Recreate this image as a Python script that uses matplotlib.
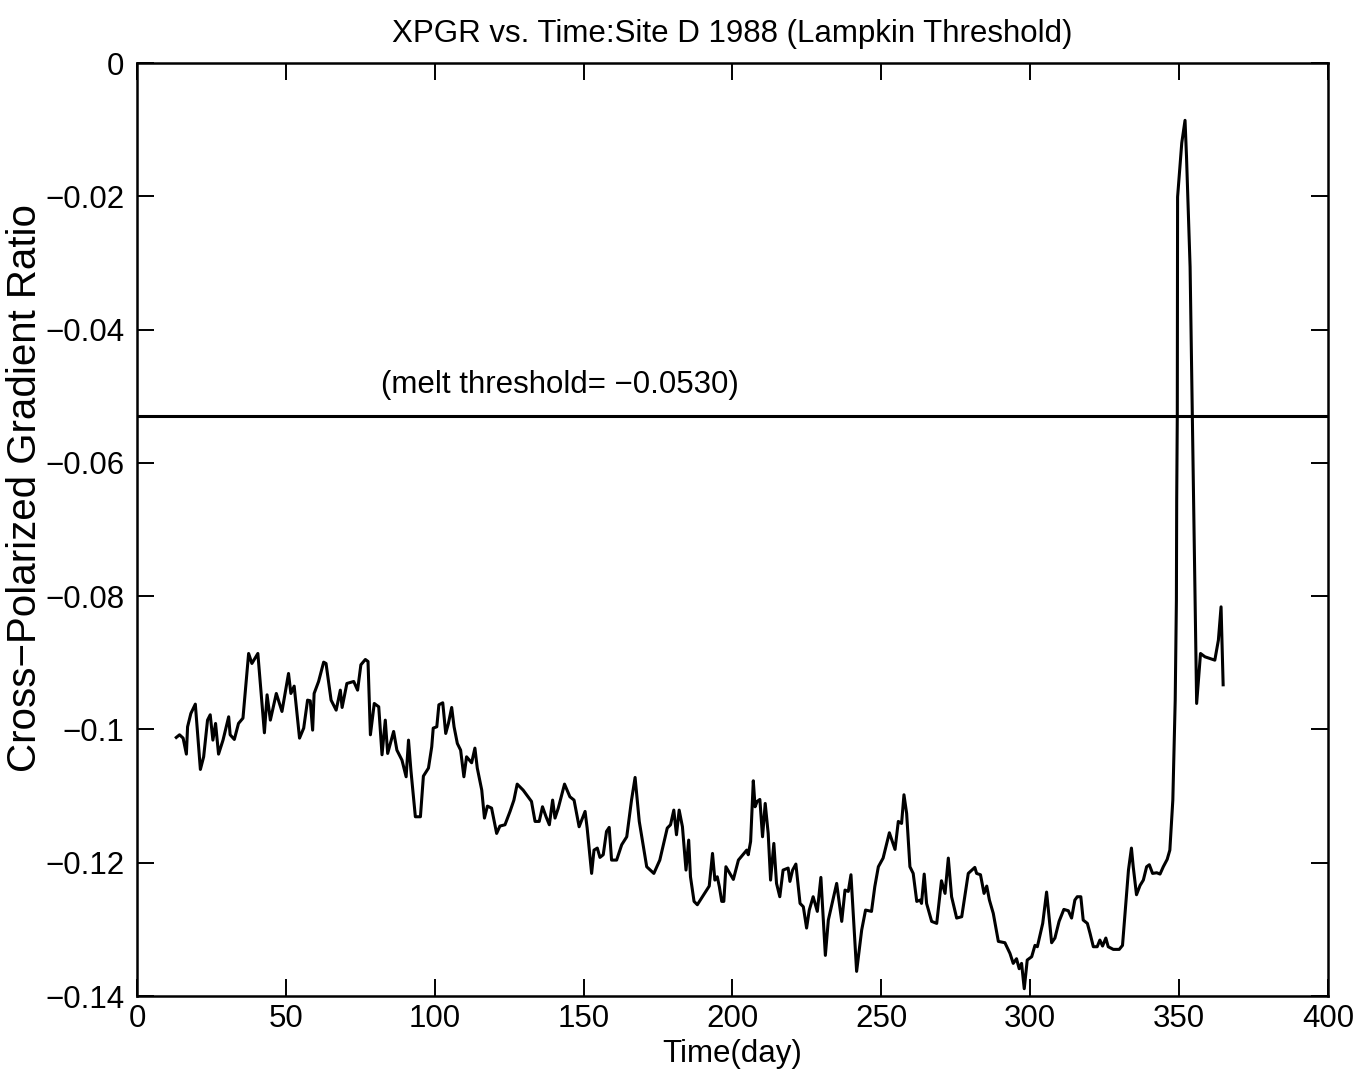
import matplotlib
matplotlib.use("Agg")
import matplotlib.pyplot as plt
from matplotlib.ticker import FuncFormatter

# XPGR series (day of year, cross-polarized gradient ratio)
days = [
    13.2, 14.3, 15.5, 16.6, 17.0, 18.1, 19.6, 21.3, 22.4, 23.7, 24.6, 25.5, 26.4, 27.4, 28.9,
    30.8, 31.3, 32.7, 34.1, 35.6, 37.5, 38.6, 40.6, 42.8, 43.7, 44.8, 46.8, 48.7, 50.9, 51.7,
    52.8, 54.6, 56.0, 57.3, 58.2, 59.0, 59.5, 61.0, 62.7, 63.5, 65.2, 66.9, 68.3, 68.9, 70.5,
    72.8, 74.1, 75.2, 76.7, 77.6, 78.4, 79.7, 81.2, 82.3, 83.4, 84.2, 86.2, 87.3, 89.0, 90.4,
    91.2, 92.0, 93.5, 95.2, 96.2, 97.9, 99.0, 99.5, 100.7, 101.4, 102.7, 103.7, 104.6, 105.7,
    106.5, 107.6, 108.7, 109.8, 110.7, 112.4, 113.5, 114.3, 115.8, 116.7, 117.7, 119.1, 120.8,
    121.9, 123.6, 125.3, 126.6, 127.7, 129.7, 132.5, 133.7, 135.1, 136.2, 137.4, 138.5, 139.6,
    140.4, 141.5, 143.6, 145.4, 146.8, 148.5, 150.5, 151.2, 152.7, 153.5, 154.6, 155.5, 156.6,
    157.7, 158.6, 159.4, 161.1, 162.8, 164.5, 166.1, 167.3, 168.7, 171.2, 173.6, 175.6, 178.1,
    179.2, 180.3, 181.2, 182.1, 183.2, 184.4, 185.3, 185.9, 187.1, 188.2, 190.2, 192.2, 193.3,
    194.1, 194.9, 195.6, 196.4, 197.1, 197.8, 200.3, 202.0, 204.8, 205.3, 206.1, 207.0, 207.6,
    208.3, 209.2, 210.1, 211.0, 212.0, 212.8, 213.9, 214.8, 215.9, 217.0, 218.7, 219.3, 220.2,
    221.3, 222.7, 223.8, 224.9, 225.8, 227.1, 228.5, 229.7, 231.2, 232.2, 235.0, 236.7, 237.8,
    238.9, 239.8, 241.7, 243.4, 244.7, 246.7, 247.8, 249.0, 250.6, 252.7, 254.6, 255.7, 256.8,
    257.6, 258.5, 259.6, 260.7, 261.9, 263.0, 263.5, 264.4, 265.2, 266.9, 268.6, 270.2, 271.4,
    272.5, 273.6, 275.3, 277.0, 279.2, 281.4, 282.0, 283.3, 284.5, 285.4, 286.3, 287.6, 289.3,
    291.5, 293.2, 294.3, 295.4, 296.3, 297.1, 298.0, 299.0, 300.5, 301.6, 302.4, 304.2, 305.5,
    307.2, 308.3, 309.7, 311.3, 312.8, 313.9, 315.0, 315.8, 317.0, 317.8, 319.2, 320.1, 321.2,
    322.5, 323.4, 324.3, 325.4, 326.2, 327.9, 329.9, 331.0, 332.4, 333.0, 334.0, 334.6, 335.7,
    336.9, 338.0, 339.1, 340.0, 341.1, 342.5, 343.6, 344.7, 346.0, 346.9, 347.5, 347.9, 348.7,
    349.1, 349.2, 349.4, 349.5, 350.9, 352.0, 352.5, 353.7, 355.9, 357.2, 358.7, 362.0, 363.2,
    364.1, 364.8,
]
xpgr = [
    -0.1012, -0.1008, -0.1013, -0.1037, -0.0996, -0.0976, -0.0962, -0.1060, -0.1041, -0.0986,
    -0.0978, -0.1016, -0.0991, -0.1037, -0.1016, -0.0981, -0.1008, -0.1015, -0.0991, -0.0983,
    -0.0886, -0.0901, -0.0886, -0.1005, -0.0948, -0.0986, -0.0946, -0.0973, -0.0916, -0.0946,
    -0.0935, -0.1013, -0.0998, -0.0956, -0.0957, -0.1001, -0.0946, -0.0928, -0.0899, -0.0901,
    -0.0956, -0.0971, -0.0941, -0.0967, -0.0931, -0.0928, -0.0941, -0.0903, -0.0895, -0.0898,
    -0.1008, -0.0961, -0.0966, -0.1038, -0.0986, -0.1036, -0.1003, -0.1031, -0.1046, -0.1071,
    -0.1016, -0.1061, -0.1131, -0.1131, -0.1070, -0.1058, -0.1026, -0.0998, -0.0996, -0.0963,
    -0.0960, -0.1006, -0.0991, -0.0967, -0.0996, -0.1021, -0.1031, -0.1071, -0.1041, -0.1050,
    -0.1028, -0.1058, -0.1091, -0.1133, -0.1115, -0.1118, -0.1156, -0.1145, -0.1143, -0.1123,
    -0.1106, -0.1082, -0.1091, -0.1108, -0.1138, -0.1138, -0.1116, -0.1131, -0.1143, -0.1106,
    -0.1133, -0.1118, -0.1082, -0.1101, -0.1106, -0.1146, -0.1123, -0.1148, -0.1216, -0.1181,
    -0.1178, -0.1192, -0.1188, -0.1153, -0.1147, -0.1196, -0.1196, -0.1173, -0.1161, -0.1106,
    -0.1072, -0.1138, -0.1206, -0.1216, -0.1196, -0.1148, -0.1143, -0.1121, -0.1158, -0.1121,
    -0.1146, -0.1211, -0.1166, -0.1221, -0.1258, -0.1263, -0.1249, -0.1235, -0.1186, -0.1226,
    -0.1221, -0.1236, -0.1258, -0.1258, -0.1206, -0.1225, -0.1196, -0.1181, -0.1188, -0.1168,
    -0.1077, -0.1116, -0.1108, -0.1105, -0.1161, -0.1111, -0.1156, -0.1226, -0.1171, -0.1231,
    -0.1251, -0.1211, -0.1208, -0.1228, -0.1211, -0.1202, -0.1261, -0.1266, -0.1298, -0.1271,
    -0.1251, -0.1273, -0.1222, -0.1339, -0.1286, -0.1231, -0.1288, -0.1241, -0.1243, -0.1218,
    -0.1363, -0.1301, -0.1271, -0.1273, -0.1236, -0.1206, -0.1193, -0.1155, -0.1180, -0.1138,
    -0.1141, -0.1098, -0.1126, -0.1206, -0.1216, -0.1258, -0.1256, -0.1261, -0.1217, -0.1261,
    -0.1288, -0.1291, -0.1227, -0.1246, -0.1193, -0.1251, -0.1283, -0.1281, -0.1216, -0.1207,
    -0.1216, -0.1218, -0.1246, -0.1235, -0.1256, -0.1276, -0.1318, -0.1320, -0.1336, -0.1351,
    -0.1344, -0.1359, -0.1351, -0.1389, -0.1346, -0.1341, -0.1324, -0.1326, -0.1291, -0.1244,
    -0.1320, -0.1313, -0.1288, -0.1270, -0.1272, -0.1283, -0.1256, -0.1251, -0.1251, -0.1286,
    -0.1291, -0.1306, -0.1326, -0.1326, -0.1316, -0.1325, -0.1313, -0.1326, -0.1330, -0.1330,
    -0.1324, -0.1246, -0.1211, -0.1178, -0.1206, -0.1248, -0.1234, -0.1226, -0.1206, -0.1203,
    -0.1216, -0.1215, -0.1217, -0.1206, -0.1195, -0.1181, -0.1136, -0.1106, -0.0956, -0.0806,
    -0.0656, -0.0530, -0.0201, -0.0120, -0.0086, -0.0141, -0.0306, -0.0961, -0.0886, -0.0891,
    -0.0896, -0.0866, -0.0816, -0.0933,
]

melt_threshold = -0.0530
x_ticks = [0, 50, 100, 150, 200, 250, 300, 350, 400]
y_ticks = [-0.14, -0.12, -0.1, -0.08, -0.06, -0.04, -0.02, 0]

plt.rcParams["font.family"] = ["Liberation Sans", "DejaVu Sans"]
FS = 22.5

fig = plt.figure(figsize=(13.71, 10.81), dpi=100)
ax = fig.add_axes([0.0999, 0.0786, 0.8687, 0.8631])

ax.plot(days, xpgr, color="black", linewidth=2.2)
ax.axhline(melt_threshold, color="black", linewidth=2.2)
ax.text(82, melt_threshold + 0.0024, "(melt threshold= \u22120.0530)",
        fontsize=FS, ha="left", va="bottom")

ax.set_xlim(0, 400)
ax.set_ylim(-0.14, 0)
ax.set_xticks(x_ticks)
ax.set_yticks(y_ticks)


def fmt(v, pos):
    s = "%g" % round(v, 4)
    return s.replace("-", "\u2212")


ax.yaxis.set_major_formatter(FuncFormatter(fmt))
ax.xaxis.set_major_formatter(FuncFormatter(fmt))
ax.tick_params(direction="in", length=12, width=1.4, labelsize=FS,
               top=True, right=True)
ax.tick_params(axis="y", pad=9)
ax.tick_params(axis="x", pad=6)
for sp in ax.spines.values():
    sp.set_linewidth(1.8)

ax.set_title("XPGR vs. Time:Site D 1988 (Lampkin Threshold)", fontsize=FS, pad=15)
ax.set_xlabel("Time(day)", fontsize=FS)
ax.xaxis.set_label_coords(0.5, -0.046)
ax.set_ylabel("Cross\u2212Polarized Gradient Ratio", fontsize=29)
ax.yaxis.set_label_coords(-0.078, 0.545)

fig.savefig("out.png", dpi=100)
